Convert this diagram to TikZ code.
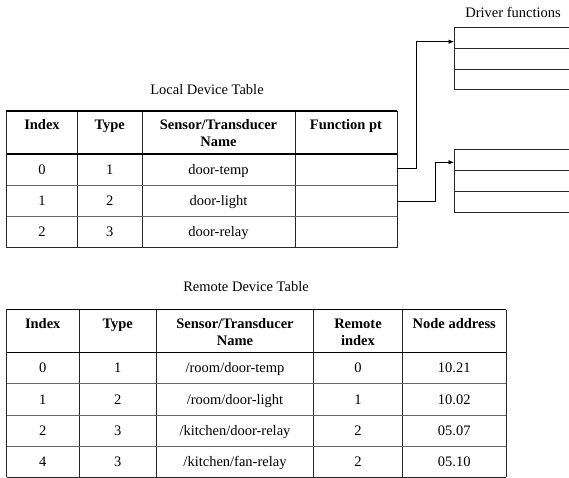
\documentclass[tikz,border=0pt]{standalone}
\usepackage{fontspec}
\setmainfont{Liberation Serif}
\usetikzlibrary{arrows.meta}
\begin{document}
\begin{tikzpicture}[x=1pt,y=-1pt,
  every node/.style={font=\fontsize{14.5}{17}\selectfont, inner sep=0pt},
  txt/.style={anchor=base},
  hdr/.style={anchor=base, font=\fontsize{14.5}{17}\selectfont\bfseries},
  grid/.style={line width=0.75pt, draw=black!85},
  rowline/.style={line width=0.8pt, draw=black!60},
  toprule/.style={line width=1.2pt, draw=black},
  midrule/.style={line width=1.7pt, draw=black},
  conn/.style={line width=0.7pt, draw=black, -{Latex[length=5.5pt,width=4.5pt]}},
  slot/.style={draw=black!85, line width=0.7pt, outer sep=0pt, minimum width=130pt, anchor=north west},
  cellnode/.style={minimum width=102pt, minimum height=30pt, outer sep=0pt},
]
\useasboundingbox (0,0) rectangle (569,478);

% ---------- Local device table ----------
\node[txt] (ltitle) at (207,95) {Local Device Table};
\foreach \x in {6.5,77.5,142,295,397}
  \draw[grid] (\x,111) -- (\x,247.5);
\draw[rowline] (6.5,185.5) -- (397,185.5);
\draw[rowline] (6.5,216.5) -- (397,216.5);
\draw[grid] (6.5,247.5) -- (397,247.5);
\draw[toprule] (6,111) -- (397.4,111);
\draw[midrule] (6.5,154) -- (397,154);

\node[hdr] (lh1) at (42,130) {Index};
\node[hdr] (lh2) at (109.75,130) {Type};
\node[hdr] (lh3) at (218.5,130) {Sensor/Transducer};
\node[hdr] (lh3b) at (218.5,147) {Name};
\node[hdr] (lh4) at (346,130) {Function pt};

\node[txt] (li0) at (42,174.5) {0};
\node[txt] (lt0) at (109.75,174.5) {1};
\node[txt] (ln0) at (218.5,174.5) {door-temp};
\node[txt] (li1) at (42,205.7) {1};
\node[txt] (lt1) at (109.75,205.7) {2};
\node[txt] (ln1) at (218.5,205.7) {door-light};
\node[txt] (li2) at (42,236.7) {2};
\node[txt] (lt2) at (109.75,236.7) {3};
\node[txt] (ln2) at (218.5,236.7) {door-relay};

% function pointer cells (empty)
\node[cellnode] (fp0) at (346,168.5) {};
\node[cellnode] (fp1) at (346,201) {};

% ---------- Driver function tables ----------
\node[txt] (dtitle) at (513,18) {Driver functions};
\node[slot, minimum height=20.6pt] (dA1) at (454,27.7) {};
\node[slot, minimum height=20.7pt] (dA2) at (dA1.south west) {};
\node[slot, minimum height=20pt]   (dA3) at (dA2.south west) {};
\node[slot, minimum height=20.7pt] (dB1) at (454,149.3) {};
\node[slot, minimum height=21.7pt] (dB2) at (dB1.south west) {};
\node[slot, minimum height=21pt]   (dB3) at (dB2.south west) {};
\coordinate (inA) at (454,41.7);
\coordinate (inB) at (454,162.3);

\draw[conn] (fp0.east) -- ++(19,0) |- (inA);
\draw[conn] (fp1.east) -- ++(38.7,0) |- (inB);

% ---------- Remote device table ----------
\node[txt] (rtitle) at (246,291.7) {Remote Device Table};
\foreach \x in {6.5,79,156.5,313.5,402.5,506}
  \draw[grid] (\x,309.5) -- (\x,477.3);
\draw[rowline] (6.5,383.7) -- (506,383.7);
\draw[rowline] (6.5,415) -- (506,415);
\draw[rowline] (6.5,446) -- (506,446);
\draw[grid] (6.5,477.3) -- (506,477.3);
\draw[toprule] (6,309.5) -- (506.4,309.5);
\draw[midrule] (6.5,352.5) -- (506,352.5);

\node[hdr] (rh1) at (42.75,328.5) {Index};
\node[hdr] (rh2) at (117.75,328.5) {Type};
\node[hdr] (rh3) at (235,328.5) {Sensor/Transducer};
\node[hdr] (rh3b) at (235,345.5) {Name};
\node[hdr] (rh4) at (358,328.5) {Remote};
\node[hdr] (rh4b) at (358,345.5) {index};
\node[hdr] (rh5) at (454.25,328.5) {Node address};

\node[txt] (ria) at (42.75,372.8) {0};
\node[txt] (rta) at (117.75,372.8) {1};
\node[txt] (rna) at (235,372.8) {/room/door-temp};
\node[txt] (rra) at (358,372.8) {0};
\node[txt] (raa) at (454.25,372.8) {10.21};

\node[txt] (rib) at (42.75,404) {1};
\node[txt] (rtb) at (117.75,404) {2};
\node[txt] (rnb) at (235,404) {/room/door-light};
\node[txt] (rrb) at (358,404) {1};
\node[txt] (rab) at (454.25,404) {10.02};

\node[txt] (ric) at (42.75,435.2) {2};
\node[txt] (rtc) at (117.75,435.2) {3};
\node[txt] (rnc) at (235,435.2) {/kitchen/door-relay};
\node[txt] (rrc) at (358,435.2) {2};
\node[txt] (rac) at (454.25,435.2) {05.07};

\node[txt] (rid) at (42.75,466.3) {4};
\node[txt] (rtd) at (117.75,466.3) {3};
\node[txt] (rnd) at (235,466.3) {/kitchen/fan-relay};
\node[txt] (rrd) at (358,466.3) {2};
\node[txt] (rad) at (454.25,466.3) {05.10};
\end{tikzpicture}
\end{document}
